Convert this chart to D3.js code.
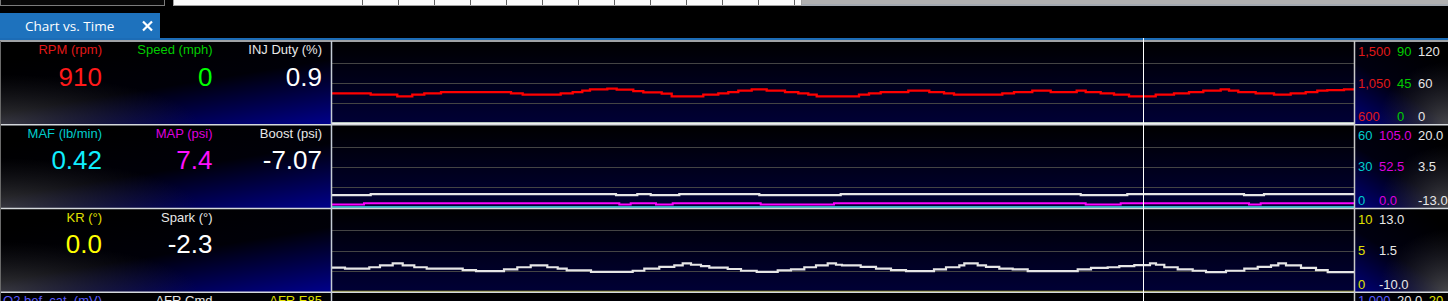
<!DOCTYPE html>
<html>
<head>
<meta charset="utf-8">
<title>Chart vs. Time</title>
<script src="https://cdn.jsdelivr.net/npm/d3@7"></script>
<style>
  html, body { margin: 0; padding: 0; background: #000; overflow: hidden; }
  svg { display: block; font-family: "Liberation Sans", Arial, sans-serif; }
</style>
</head>
<body>
<svg id="chart" width="1448" height="301"></svg>
<script>
// time axis (s) and the cursor
const T_END = 102.2;
const CURSOR_T = 81.1;

// logged channels: [time (s), value], value holds until next entry
const rpm = [[0,937],[3.87,922],[6.53,904],[8.03,922],[9.23,937],[10.9,951],[17.9,937],[19.07,922],
  [22.87,937],[24.07,951],[25.03,966],[25.8,980],[27.53,990],[28.47,977],[30.13,962],[31.13,948],
  [32.97,933],[33.97,904],[37.13,922],[38.63,937],[39.63,951],[40.63,966],[41.97,980],[43.47,966],
  [45.3,951],[46.63,937],[47.63,922],[48.47,904],[52.7,922],[53.7,937],[54.87,951],[57.63,966],
  [59.73,951],[61.2,937],[62.2,922],[67.03,937],[68.2,951],[70.03,966],[71.87,951],[74.47,966],
  [75.37,951],[76.87,937],[78.2,922],[79.7,904],[82.37,922],[84.2,937],[85.7,951],[87.13,966],
  [88.87,980],[89.7,966],[90.63,951],[92.37,937],[94.2,922],[95.87,937],[97.37,951],[98.53,966],
  [99.53,973],[101.2,980]];
const speed = [[0,0]];
const injDuty = [[0,0.9]];
const maf = [[0,0.42]];
const map = [[0,3.9],[3.2,5.4],[28.73,3.9],[29.87,5.4],[32.4,3.9],[34.07,5.4],[42.87,3.9],[50.2,5.4],
  [75.37,3.9],[78.87,5.4],[91.7,3.9],[92.87,5.4]];
const boost = [[0,-8.0],[3.87,-7.6],[28.4,-8.0],[30.53,-7.6],[31.87,-8.0],[34.73,-7.6],[42.73,-8.0],
  [50.87,-7.6],[74.87,-8.0],[79.53,-7.6],[91.2,-8.0],[93.2,-7.6]];
const kr = [[0,0]];
const spark = [[0,-3.3],[1.3,-3.6],[3.73,-3.2],[4.8,-2.7],[6.07,-2.1],[7.07,-2.7],[8.23,-3.2],[9.47,-3.6],
  [13.07,-4.0],[14.4,-4.3],[17.2,-3.8],[18.53,-3.2],[19.87,-2.7],[21.53,-3.2],[22.57,-3.6],[23.47,-4.1],
  [25.9,-4.5],[30.07,-4.2],[31.23,-3.6],[32.73,-3.1],[34.23,-2.7],[35.07,-2.1],[35.9,-2.5],[36.9,-2.9],
  [37.73,-3.3],[39.57,-3.7],[40.9,-4.2],[42.47,-4.5],[44.57,-4.1],[45.9,-3.8],[47.23,-3.2],[48.4,-2.7],
  [49.57,-2.1],[50.4,-2.5],[51.0,-2.7],[52.87,-3.1],[54.4,-3.6],[55.9,-4.0],[57.4,-4.3],[60.2,-3.8],
  [61.4,-3.2],[62.73,-2.7],[63.23,-2.1],[64.57,-2.7],[65.4,-3.1],[66.73,-3.6],[68.07,-3.8],[69.57,-4.3],
  [74.57,-3.8],[75.9,-3.4],[77.57,-3.2],[78.73,-2.9],[80.23,-2.6],[81.8,-2.1],[82.4,-2.5],[83.23,-3.2],
  [84.57,-3.8],[86.07,-4.2],[87.4,-4.6],[89.4,-4.2],[91.23,-3.6],[92.57,-3.1],[93.9,-2.7],[94.63,-2.1],
  [95.4,-2.7],[96.9,-3.4],[98.4,-4.0],[99.57,-4.6]];

const headerLabels = [
  ["RPM (rpm)", "Speed (mph)", "INJ Duty (%)"],
  ["MAF (lb/min)", "MAP (psi)", "Boost (psi)"],
  ["KR (°)", "Spark (°)"],
  ["O2 bef. cat. (mV)", "AFR Cmd", "AFR E85"]
];
const currentValues = [
  ["910", "0", "0.9"],
  ["0.42", "7.4", "-7.07"],
  ["0.0", "-2.3"]
];
const axisDomains = [
  [[600, 1500], [0, 90], [0, 120]],
  [[0, 60], [0, 105], [-13, 20]],
  [[0, 10], [-10, 13]]
];
const axisLabels = [
  [["1,500", "1,050", "600"], ["90", "45", "0"], ["120", "60", "0"]],
  [["60", "30", "0"], ["105.0", "52.5", "0.0"], ["20.0", "3.5", "-13.0"]],
  [["10", "5", "0"], ["13.0", "1.5", "-10.0"]],
  [["1,000"], ["20.0"], ["20"]]
];

const panelSeries = [[rpm, speed, injDuty], [maf, map, boost], [kr, spark]];
const lineColors = [["#ff0000", "#00ff00", "#f0f0f0"], ["#40e8f0", "#ff00ff", "#e6e6e6"], ["#a8a800", "#e6e6e6"]];
const lineWidths = [[2.3, 2, 2], [1.5, 2, 2.2], [1.2, 2.2]];
const headerColors = [["#e01818", "#00cc00", "#e8e8e8"], ["#00cccc", "#dd00dd", "#e8e8e8"],
  ["#e0e000", "#e8e8e8"], ["#5a5aff", "#e8e8e8", "#e0e000"]];
const valueColors = [["#ff1a1a", "#00ff00", "#ffffff"], ["#10eeff", "#ff10ff", "#ffffff"], ["#ffff00", "#ffffff"]];

const W = 1448, H = 301;
const LEFT_W = 331;
const PLOT_X0 = 332, PLOT_X1 = 1354;
const RIGHT_X = 1355;
const TOP0 = 41, PANEL_H = 83.75;
const HEADER_X = [102, 212.5, 322];

const svg = d3.select('#chart').attr('width', W).attr('height', H);
const defs = svg.append('defs');

function linGrad(id, x1, y1, x2, y2, stops) {
  const g = defs.append('linearGradient').attr('id', id)
    .attr('x1', x1).attr('y1', y1).attr('x2', x2).attr('y2', y2);
  stops.forEach(s => g.append('stop').attr('offset', s[0]).attr('stop-color', s[1]));
}
function radGrad(id, cx, cy, r, stops) {
  const g = defs.append('radialGradient').attr('id', id)
    .attr('cx', cx).attr('cy', cy).attr('r', r);
  stops.forEach(s => g.append('stop').attr('offset', s[0]).attr('stop-color', s[1]).attr('stop-opacity', s[2]));
}
linGrad('leftBg', 0.35, 0, 1, 1, [[0, '#000000'], [0.45, '#000008'], [1, '#00008c']]);
radGrad('leftGlow', 0, 1, 0.6, [[0, '#505050', 0.7], [1, '#303030', 0]]);
linGrad('rightBg', 0.7, 0, 0, 1, [[0, '#000000'], [0.5, '#000010'], [1, '#00007a']]);
radGrad('rightGlow', 1, 1, 0.75, [[0, '#5a5a5a', 0.8], [1, '#333333', 0]]);
linGrad('plotBg', 0, 0, 0, 1, [[0, '#000000'], [1, '#000036']]);
defs.append('clipPath').attr('id', 'plotClip').append('rect')
  .attr('x', PLOT_X0).attr('y', TOP0).attr('width', PLOT_X1 - PLOT_X0).attr('height', H - TOP0);

// top strip, tab
svg.append('rect').attr('width', W).attr('height', H).attr('fill', '#000');
svg.append('rect').attr('x', 0.5).attr('y', -1).attr('width', 164).attr('height', 6.5)
  .attr('fill', '#080808').attr('stroke', '#7c7c7c');
svg.append('rect').attr('x', 802).attr('y', 0).attr('width', W - 802).attr('height', 4).attr('fill', '#b0b0b0');
svg.append('rect').attr('x', 173.5).attr('y', -1).attr('width', 628).attr('height', 6.5)
  .attr('fill', '#fafafa').attr('stroke', '#a0a0a0');
svg.selectAll('.cell').data(d3.range(362, 802, 36)).enter().append('line')
  .attr('x1', d => d + 0.5).attr('x2', d => d + 0.5).attr('y1', 0).attr('y2', 5)
  .attr('stroke', '#606060');
svg.append('line').attr('x1', 802).attr('x2', W).attr('y1', 5).attr('y2', 5)
  .attr('stroke', '#d8e0ea').attr('stroke-width', 1.5);

svg.append('rect').attr('x', 0).attr('y', 13).attr('width', 160).attr('height', 26).attr('fill', '#1e72bd');
svg.append('text').attr('x', 25).attr('y', 31).attr('fill', '#fff')
  .style('font-family', '"Open Sans", "Noto Sans", sans-serif').style('font-size', '13.5px')
  .text('Chart vs. Time');
svg.append('path').attr('d', 'M143,21.5L152,30.5M152,21.5L143,30.5')
  .attr('stroke', '#fff').attr('stroke-width', 2.2);
svg.append('rect').attr('x', 0).attr('y', 38).attr('width', W).attr('height', 2).attr('fill', '#1c6cb6');

const x = d3.scaleLinear().domain([0, T_END]).range([PLOT_X0, PLOT_X1]);

function panelTop(i) { return TOP0 + i * PANEL_H; }

// panel backgrounds (4th panel is only partly visible)
d3.range(4).forEach(i => {
  const top = panelTop(i);
  const g = svg.append('g');
  g.append('rect').attr('x', 0).attr('y', top).attr('width', LEFT_W).attr('height', PANEL_H).attr('fill', 'url(#leftBg)');
  g.append('rect').attr('x', 0).attr('y', top).attr('width', LEFT_W).attr('height', PANEL_H).attr('fill', 'url(#leftGlow)');
  g.append('rect').attr('x', PLOT_X0).attr('y', top).attr('width', PLOT_X1 - PLOT_X0).attr('height', PANEL_H).attr('fill', 'url(#plotBg)');
  g.append('rect').attr('x', RIGHT_X).attr('y', top).attr('width', W - RIGHT_X).attr('height', PANEL_H).attr('fill', 'url(#rightBg)');
  g.append('rect').attr('x', RIGHT_X).attr('y', top).attr('width', W - RIGHT_X).attr('height', PANEL_H).attr('fill', 'url(#rightGlow)');

  const plotTop = top + 1.5, plotBot = top + 82.75;
  g.selectAll('.grid').data([1, 2, 3]).enter().append('line')
    .attr('x1', PLOT_X0).attr('x2', PLOT_X1)
    .attr('y1', k => Math.round(plotTop + k * (plotBot - plotTop) / 4) + 0.5)
    .attr('y2', k => Math.round(plotTop + k * (plotBot - plotTop) / 4) + 0.5)
    .attr('stroke', '#444444').attr('stroke-width', 1);

  // channel names and live values
  headerLabels[i].forEach((lab, c) => {
    g.append('text').attr('x', HEADER_X[c]).attr('y', top + 13).attr('text-anchor', 'end')
      .attr('fill', headerColors[i][c]).style('font-size', '13px').text(lab);
  });
  if (currentValues[i]) {
    currentValues[i].forEach((v, c) => {
      g.append('text').attr('x', HEADER_X[c]).attr('y', top + 44.5).attr('text-anchor', 'end')
        .attr('fill', valueColors[i][c]).style('font-size', '26px').text(v);
    });
  }

  // channel lines
  if (panelSeries[i]) {
    const lines = g.append('g').attr('clip-path', 'url(#plotClip)');
    panelSeries[i].forEach((s, c) => {
      const y = d3.scaleLinear().domain(axisDomains[i][c]).range([plotBot, plotTop]);
      const pts = s.concat([[T_END, s[s.length - 1][1]]]);
      const line = d3.line().x(d => x(d[0])).y(d => y(d[1])).curve(d3.curveStepAfter);
      lines.append('path').datum(pts).attr('d', line)
        .attr('fill', 'none').attr('stroke', lineColors[i][c]).attr('stroke-width', lineWidths[i][c]);
    });
  }

  // right-hand scale labels, one column per channel
  let colX = 1358;
  axisLabels[i].forEach((labs, c) => {
    let ys;
    if (axisDomains[i]) {
      const d = axisDomains[i][c];
      const y = d3.scaleLinear().domain(d).range([plotBot, plotTop]);
      ys = [d[1], (d[0] + d[1]) / 2, d[0]].map(v => Math.max(top + 10.5, Math.min(plotBot - 7, y(v))));
    } else {
      ys = [top + 8];
    }
    const col = g.append('g');
    labs.forEach((t, k) => {
      col.append('text').attr('x', colX).attr('y', ys[k]).attr('dy', '0.35em')
        .attr('fill', headerColors[i][c]).style('font-size', '13px').text(t);
    });
    colX += col.node().getBBox().width + 6.5;
  });
});

// separators and frame
d3.range(4).forEach(i => {
  svg.append('line').attr('x1', 0).attr('x2', W).attr('y1', panelTop(i)).attr('y2', panelTop(i))
    .attr('stroke', '#d4d8dc').attr('stroke-width', 1.4);
});
svg.append('line').attr('x1', 0.5).attr('x2', 0.5).attr('y1', TOP0).attr('y2', H).attr('stroke', '#6a6a6a');
svg.append('line').attr('x1', 331.5).attr('x2', 331.5).attr('y1', TOP0).attr('y2', H)
  .attr('stroke', '#c4ccd6').attr('stroke-width', 1.5);
svg.append('line').attr('x1', 1354.5).attr('x2', 1354.5).attr('y1', TOP0).attr('y2', H)
  .attr('stroke', '#c8c8c8').attr('stroke-width', 1.5);

// time cursor
svg.append('line').attr('x1', Math.round(x(CURSOR_T)) + 0.5).attr('x2', Math.round(x(CURSOR_T)) + 0.5)
  .attr('y1', 38).attr('y2', H).attr('stroke', '#ffffff').attr('stroke-width', 1);
</script>
</body>
</html>
